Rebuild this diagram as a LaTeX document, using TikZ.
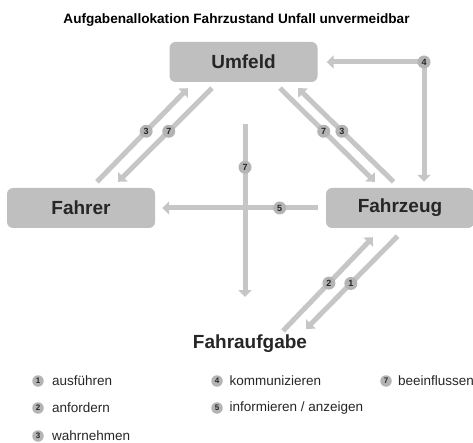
\documentclass[tikz,border=0pt]{standalone}
\usepackage{fontspec}
\setmainfont{Liberation Sans}
\usepackage{tikz}
\usetikzlibrary{shapes, arrows.meta, positioning, calc}

\definecolor{boxgray}{HTML}{BFBFBF}
\definecolor{linegray}{HTML}{C6C6C6}
\definecolor{numgray}{HTML}{B4B4B4}
\definecolor{txtdark}{HTML}{262626}

\tikzset{
    actor/.style={rectangle, rounded corners=6pt, fill=boxgray, draw=none,
        minimum width=148pt, minimum height=40pt, inner sep=0pt,
        text=txtdark, font=\bfseries\fontsize{19}{22}\selectfont},
    task/.style={inner sep=3pt, text=txtdark, font=\bfseries\fontsize{19}{22}\selectfont},
    flow/.style={draw=linegray, line width=5pt, -{Triangle[width=13pt,length=7pt]}},
    num/.style={circle, fill=numgray, inner sep=0pt, minimum size=13pt,
        text=txtdark, font=\bfseries\fontsize{9}{10}\selectfont},
    keynum/.style={num, minimum size=11.5pt, font=\bfseries\fontsize{8}{9}\selectfont},
    keytext/.style={inner sep=0pt, anchor=west, text=txtdark, font=\fontsize{13.5}{15}\selectfont}
}

\begin{document}
\begin{tikzpicture}[x=1pt, y=1pt]
    \useasboundingbox (0,0) rectangle (473,-443);

    \node[font=\bfseries\fontsize{13.6}{16}\selectfont] (title) at (236.5,-20)
        {Aufgabenallokation Fahrzustand Unfall unvermeidbar};

    \node[actor] (Umfeld) at (243.5,-62) {Umfeld};
    \node[actor] (Fahrer) at (81,-208) {Fahrer};
    \node[actor] (Fahrzeug) at (400,-208) {Fahrzeug};
    \node[task] (Fahraufgabe) at (250,-344) {Fahraufgabe};

    % Umfeld <-> Fahrer
    \draw[flow] ($(Fahrer.north)+(16,6)$) -- ($(Umfeld.south)+(-55.5,-6)$)
        node[num, pos=.54] (n3a) {3};
    \draw[flow] ($(Umfeld.south)+(-31.5,-6)$) -- ($(Fahrer.north)+(37,6)$)
        node[num, pos=.46] (n7a) {7};

    % Umfeld <-> Fahrzeug
    \draw[flow] ($(Umfeld.south)+(36.5,-6)$) -- ($(Fahrzeug.north)+(-25,6)$)
        node[num, pos=.46] (n7b) {7};
    \draw[flow] ($(Fahrzeug.north)+(-6.5,6)$) -- ($(Umfeld.south)+(54.5,-6)$)
        node[num, pos=.54] (n3b) {3};

    % Fahrzeug <-> Fahraufgabe
    \draw[flow] ($(Fahraufgabe.north)+(33,1)$) -- ($(Fahrzeug.south)+(-27,-9)$)
        node[num, pos=.51] (n2) {2};
    \draw[flow] ($(Fahrzeug.south)+(-2.5,-8)$) -- ($(Fahraufgabe.north)+(56,3)$)
        node[num, pos=.51] (n1) {1};

    % kommunizieren
    \coordinate (k4) at (424,-62);
    \draw[flow, shorten >=9pt] (k4) -- (Umfeld.east);
    \draw[flow, shorten >=6pt] (k4) -- (k4 |- Fahrzeug.north);
    \node[num] (n4) at (k4) {4};

    % informieren / anzeigen
    \draw[flow, shorten <=8pt, shorten >=7pt] (Fahrzeug.west) -- (Fahrer.east)
        node[num, pos=.27] (n5) {5};

    % beeinflussen
    \coordinate (v7top) at (245,-124);
    \coordinate (v7bot) at (245,-297);
    \draw[flow] (v7top) -- (v7bot) node[num, pos=.25] (n7c) {7};

    % legend
    \node[keynum] (key1) at (38,-381) {1};
    \node[keytext, right=8pt of key1] {ausführen};
    \node[keynum] (key2) at (38,-408) {2};
    \node[keytext, right=8pt of key2] {anfordern};
    \node[keynum] (key3) at (38,-436) {3};
    \node[keytext, right=8pt of key3] {wahrnehmen};
    \node[keynum] (key4) at (217,-381) {4};
    \node[keytext, right=6.5pt of key4] {kommunizieren};
    \node[keynum] (key5) at (217,-408) {5};
    \node[keytext, right=6.5pt of key5] {informieren / anzeigen};
    \node[keynum] (key7) at (386,-381) {7};
    \node[keytext, right=6pt of key7] {beeinflussen};

    % \node[keynum] (key6) at (217,-436) {6};
\end{tikzpicture}
\end{document}
